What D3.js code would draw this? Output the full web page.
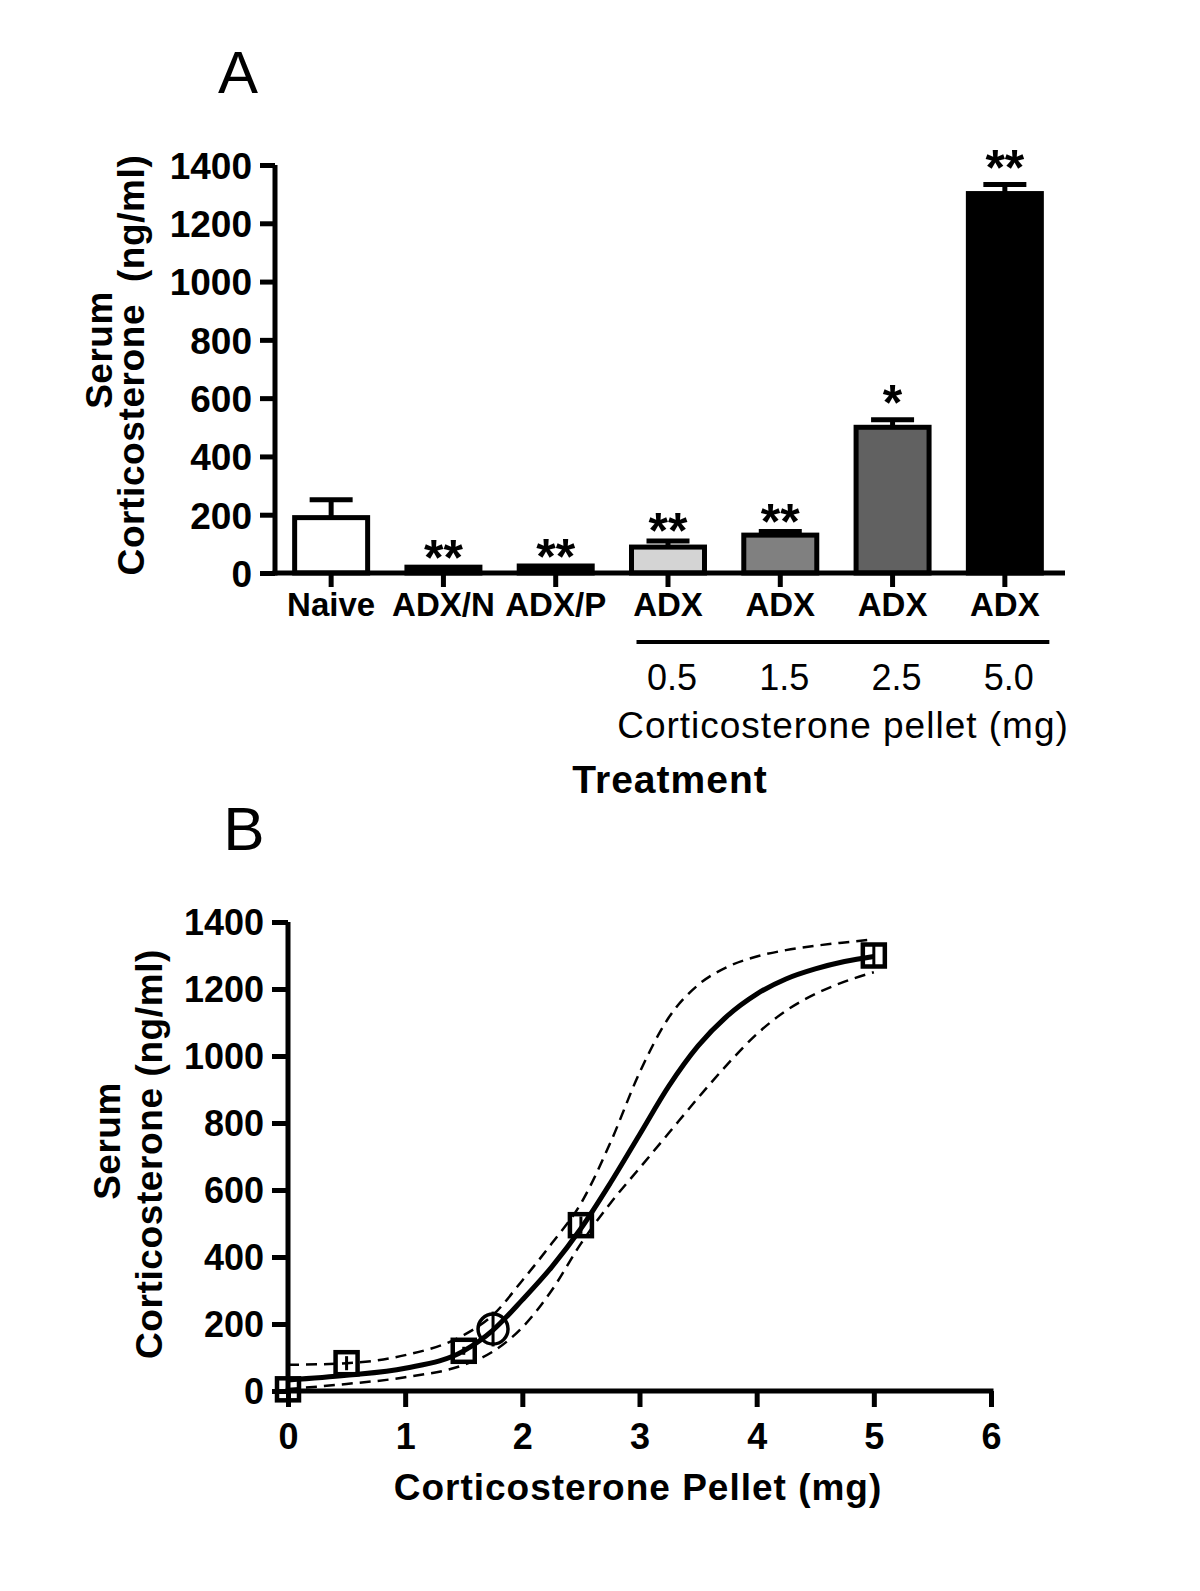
<!DOCTYPE html>
<html>
<head>
<meta charset="utf-8">
<script src="https://cdn.jsdelivr.net/npm/d3@7"></script>
<style>
  html, body { margin: 0; padding: 0; background: #fff; }
  svg { display: block; }
  text { font-family: "Liberation Sans", Arial, sans-serif; fill: #000; }
</style>
</head>
<body>
<svg id="chart" width="1200" height="1591"></svg>
<script>
// ---------- Panel A data ----------
const groups = ["Naive", "ADX/N", "ADX/P", "ADX", "ADX", "ADX", "ADX"];
const groupIds = ["g0", "g1", "g2", "g3", "g4", "g5", "g6"];
const meansA = [190, 20, 24, 89, 130, 500, 1302];
const semA = [61, 0, 0, 21, 12, 26, 31];
const fillsA = ["#ffffff", "#000000", "#000000", "#d4d4d4", "#808080", "#616161", "#000000"];
const starsA = ["", "**", "**", "**", "**", "*", "**"];
const doses = ["0.5", "1.5", "2.5", "5.0"];
const yTicksA = [0, 200, 400, 600, 800, 1000, 1200, 1400];

// ---------- Panel B data ----------
const ptX = [0, 0.5, 1.5, 1.75, 2.5, 5];
const ptY = [5, 83, 120, 185, 495, 1300];
const ptErr = [8, 21, 12, 52, 26, 31];
const ptShape = ["square", "square", "square", "circle", "square", "square"];
const fitX = [0, 0.5, 1, 1.5, 1.75, 2, 2.25, 2.5, 2.75, 3, 3.25, 3.5, 3.75, 4, 4.25, 4.5, 4.75, 5];
const fitY = [33, 47, 68, 120, 182, 272, 370, 485, 620, 765, 910, 1030, 1120, 1185, 1230, 1260, 1282, 1297];
const upperY = [78, 83, 107, 167, 227, 330, 440, 560, 740, 950, 1115, 1212, 1266, 1297, 1316, 1329, 1339, 1348];
const lowerY = [6, 21, 41, 78, 118, 190, 300, 440, 560, 665, 770, 875, 975, 1065, 1135, 1185, 1222, 1250];
const xTicksB = [0, 1, 2, 3, 4, 5, 6];
const yTicksB = [0, 200, 400, 600, 800, 1000, 1200, 1400];

const svg = d3.select("#chart");
const FONT = "'Liberation Sans', Arial, sans-serif";

// =================== PANEL A ===================
const xA = d3.scaleBand().domain(groupIds).range([275, 1061]).paddingInner(0.35).paddingOuter(0.175);
const yA = d3.scaleLinear().domain([0, 1400]).range([573, 165]);
const gA = svg.append("g");

svg.append("text").attr("x", 238).attr("y", 93).attr("text-anchor", "middle")
  .attr("font-size", 60).text("A");

// bars
gA.selectAll("rect.bar").data(meansA).join("rect")
  .attr("class", "bar")
  .attr("x", (d, i) => xA(groupIds[i]))
  .attr("width", xA.bandwidth())
  .attr("y", d => yA(d))
  .attr("height", d => yA(0) - yA(d))
  .attr("fill", (d, i) => fillsA[i])
  .attr("stroke", "#000").attr("stroke-width", 5);

// error bars (upper only)
const capW = 43;
meansA.forEach((m, i) => {
  if (semA[i] <= 0) return;
  const cx = xA(groupIds[i]) + xA.bandwidth() / 2;
  gA.append("line").attr("x1", cx).attr("x2", cx)
    .attr("y1", yA(m)).attr("y2", yA(m + semA[i]))
    .attr("stroke", "#000").attr("stroke-width", 5);
  gA.append("line").attr("x1", cx - capW / 2).attr("x2", cx + capW / 2)
    .attr("y1", yA(m + semA[i])).attr("y2", yA(m + semA[i]))
    .attr("stroke", "#000").attr("stroke-width", 5);
});

// stars
const starFs = 50;
meansA.forEach((m, i) => {
  if (!starsA[i]) return;
  const cx = xA(groupIds[i]) + xA.bandwidth() / 2;
  const top = yA(m + semA[i]) - 2;
  const gap = (i >= 5) ? 19 : 12;
  gA.append("text").attr("x", cx).attr("y", top - gap + 0.43 * starFs)
    .attr("text-anchor", "middle").attr("font-weight", "bold")
    .attr("font-size", starFs).text(starsA[i]);
});

// y axis
const yAxisA = d3.axisLeft(yA).tickValues(yTicksA).tickFormat(d3.format("d"))
  .tickSize(15).tickSizeOuter(0).tickPadding(8);
const gyA = gA.append("g").attr("transform", "translate(275,0)").call(yAxisA);
gyA.select(".domain").attr("stroke-width", 5).attr("d", `M0,${yA(1400)}V${yA(0) + 2.5}`);
gyA.selectAll(".tick line").attr("stroke-width", 5);
gyA.selectAll(".tick text").attr("font-size", 37).attr("font-weight", "bold")
  .attr("font-family", FONT).attr("dy", "0.36em");

// x axis
const xAxisA = d3.axisBottom(xA).tickSize(14).tickSizeOuter(0).tickFormat((d, i) => groups[i]).tickPadding(6);
const gxA = gA.append("g").attr("transform", `translate(0,${yA(0)})`).call(xAxisA);
gxA.select(".domain").attr("stroke-width", 5).attr("d", "M272.5,0H1065");
gxA.selectAll(".tick line").attr("stroke-width", 5);
gxA.selectAll(".tick text").attr("font-size", 33).attr("font-weight", "bold")
  .attr("font-family", FONT)
  .attr("dy", null).attr("y", 43);

// dose bracket line
const firstDose = xA(groupIds[3]);
const lastDose = xA(groupIds[6]) + xA.bandwidth();
gA.append("line").attr("x1", firstDose + 5).attr("x2", lastDose + 8)
  .attr("y1", 642).attr("y2", 642).attr("stroke", "#000").attr("stroke-width", 4);
doses.forEach((d, k) => {
  const cx = xA(groupIds[3 + k]) + xA.bandwidth() / 2;
  gA.append("text").attr("x", cx + 4).attr("y", 690).attr("text-anchor", "middle")
    .attr("font-size", 36).text(d);
});
gA.append("text").attr("x", 843).attr("y", 738).attr("text-anchor", "middle")
  .attr("font-size", 37).attr("letter-spacing", 1).text("Corticosterone pellet (mg)");
gA.append("text").attr("x", 670).attr("y", 793).attr("text-anchor", "middle")
  .attr("font-size", 39).attr("font-weight", "bold").attr("letter-spacing", 1).text("Treatment");

// y title A
gA.append("text").attr("transform", "translate(112,350) rotate(-90)").attr("text-anchor", "middle")
  .attr("font-size", 37).attr("font-weight", "bold").attr("letter-spacing", 0.5).text("Serum");
gA.append("text").attr("transform", "translate(144,365) rotate(-90)").attr("text-anchor", "middle")
  .attr("font-size", 37).attr("font-weight", "bold").attr("letter-spacing", 0.6)
  .style("white-space", "pre").text("Corticosterone  (ng/ml)");

// =================== PANEL B ===================
const xB = d3.scaleLinear().domain([0, 6]).range([288, 991]);
const yB = d3.scaleLinear().domain([0, 1400]).range([1391, 922]);
const gB = svg.append("g");

svg.append("text").attr("x", 244).attr("y", 850).attr("text-anchor", "middle")
  .attr("font-size", 62).text("B");

// axes
const yAxisB = d3.axisLeft(yB).tickValues(yTicksB).tickFormat(d3.format("d"))
  .tickSize(16).tickSizeOuter(0).tickPadding(8);
const gyB = gB.append("g").attr("transform", `translate(${xB(0)},0)`).call(yAxisB);
gyB.select(".domain").attr("stroke-width", 5).attr("d", `M0,${yB(1400)}V${yB(0)}`);
gyB.selectAll(".tick line").attr("stroke-width", 5);
gyB.selectAll(".tick text").attr("font-size", 36).attr("font-weight", "bold")
  .attr("font-family", FONT).attr("dy", "0.36em");

const xAxisB = d3.axisBottom(xB).tickValues(xTicksB).tickSize(16).tickSizeOuter(0).tickFormat(d3.format("d"));
const gxB = gB.append("g").attr("transform", `translate(0,${yB(0)})`).call(xAxisB);
gxB.select(".domain").attr("stroke-width", 5).attr("d", `M${xB(0) - 2.5},0H${xB(6) + 2.5}`);
gxB.selectAll(".tick line").attr("stroke-width", 5);
gxB.selectAll(".tick text").attr("font-size", 36).attr("font-weight", "bold")
  .attr("font-family", FONT)
  .attr("dy", null).attr("y", 58);

// curves
const lineGen = d3.line().curve(d3.curveMonotoneX);
const toPts = ys => fitX.map((x, i) => [xB(x), yB(ys[i])]);
gB.append("path").attr("d", lineGen(toPts(upperY))).attr("fill", "none")
  .attr("stroke", "#000").attr("stroke-width", 2.5).attr("stroke-dasharray", "11,7");
gB.append("path").attr("d", lineGen(toPts(lowerY))).attr("fill", "none")
  .attr("stroke", "#000").attr("stroke-width", 2.5).attr("stroke-dasharray", "11,7");
gB.append("path").attr("d", lineGen(toPts(fitY))).attr("fill", "none")
  .attr("stroke", "#000").attr("stroke-width", 5);

// points
ptX.forEach((x, i) => {
  const cx = xB(x), cy = yB(ptY[i]);
  gB.append("line").attr("x1", cx).attr("x2", cx)
    .attr("y1", yB(ptY[i] - ptErr[i])).attr("y2", yB(ptY[i] + ptErr[i]))
    .attr("stroke", "#000").attr("stroke-width", 3);
  if (ptShape[i] === "square") {
    gB.append("rect").attr("x", cx - 11).attr("y", cy - 11).attr("width", 22).attr("height", 22)
      .attr("fill", "none").attr("stroke", "#000").attr("stroke-width", 4.5);
  } else {
    gB.append("circle").attr("cx", cx).attr("cy", cy).attr("r", 15)
      .attr("fill", "none").attr("stroke", "#000").attr("stroke-width", 3.5);
  }
});

// titles B
gB.append("text").attr("x", 638).attr("y", 1500).attr("text-anchor", "middle")
  .attr("font-size", 37).attr("font-weight", "bold").attr("letter-spacing", 1)
  .text("Corticosterone Pellet (mg)");
gB.append("text").attr("transform", "translate(120,1141) rotate(-90)").attr("text-anchor", "middle")
  .attr("font-size", 37).attr("font-weight", "bold").attr("letter-spacing", 0.5).text("Serum");
gB.append("text").attr("transform", "translate(162,1154) rotate(-90)").attr("text-anchor", "middle")
  .attr("font-size", 37).attr("font-weight", "bold").attr("letter-spacing", 0.6)
  .text("Corticosterone (ng/ml)");
</script>
</body>
</html>
